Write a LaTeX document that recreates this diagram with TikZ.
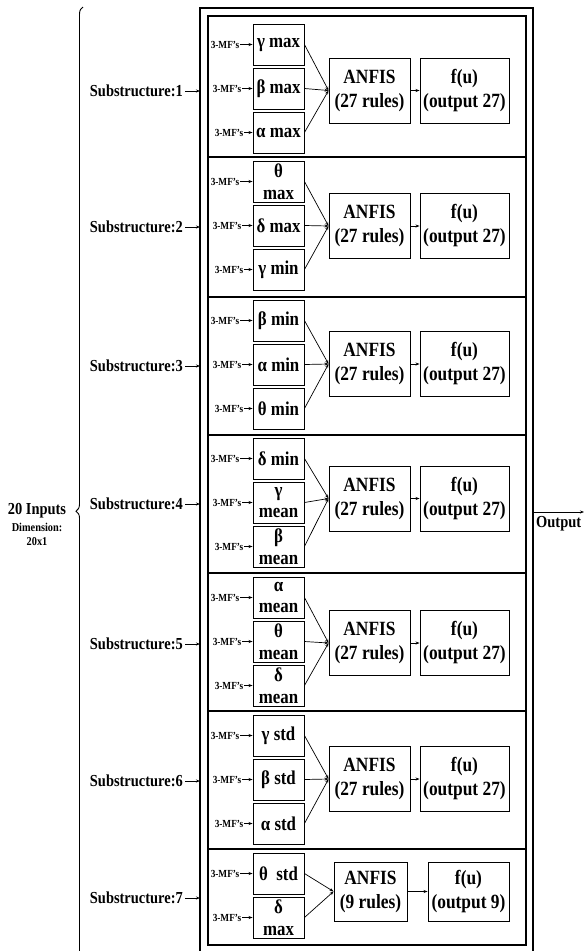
\documentclass[tikz,border=0pt]{standalone}
\usepackage{fontspec}
\setmainfont{Liberation Serif}[FakeStretch=0.86]
\usetikzlibrary{arrows.meta,decorations.pathreplacing}
\newcommand\fsub{\fontsize{16.8}{18}\selectfont\bfseries}
\newcommand\fin{\fontsize{19.6}{21.5}\selectfont\bfseries}
\newcommand\fan{\fontsize{20.2}{24}\selectfont\bfseries}
\newcommand\fmf{\fontsize{10.8}{11}\selectfont\bfseries}
\newcommand\fdim{\fontsize{12}{13}\selectfont\bfseries}
\tikzset{
  inbox/.style={draw,line width=0.9pt,minimum width=51pt,minimum height=41pt,inner sep=0pt,align=center,font=\fin},
  anfisbox/.style={draw,line width=0.9pt,minimum width=81pt,minimum height=65pt,inner sep=0pt,align=center,font=\fan},
  fubox/.style={draw,line width=0.9pt,minimum width=89pt,minimum height=65pt,inner sep=0pt,align=center,font=\fan},
  mflabel/.style={inner sep=0.5pt,anchor=east,font=\fmf},
  sublabel/.style={inner sep=0pt,anchor=east,font=\fsub},
  sarr/.style={line width=0.7pt,-{Stealth[length=4pt,width=3pt]}},
  frame/.style={line width=1.2pt},
}
% #1 id, #2 top of first box, #3 #4 #5 texts, #6 ANFIS centre y, #7 label y, #8 number
\newcommand\mysect[8]{%
  \node[inbox] (b#1a) at (278.5,#2+20.5) {#3};
  \node[inbox] (b#1b) at (278.5,#2+64.5) {#4};
  \node[inbox] (b#1c) at (278.5,#2+108.5) {#5};
  \node[mflabel] (m#1a) at (240,#2+20.5) {3-MF’s};
  \node[mflabel] (m#1b) at (242,#2+64.5) {3-MF’s};
  \node[mflabel] (m#1c) at (244,#2+108.5) {3-MF’s};
  \draw[sarr] (m#1a.east) -- (b#1a.west);
  \draw[sarr] (m#1b.east) -- (b#1b.west);
  \draw[sarr] (m#1c.east) -- (b#1c.west);
  \node[anfisbox] (a#1) at (369.5,#6) {ANFIS\\(27 rules)};
  \node[fubox] (f#1) at (464.5,#6) {f(u)\\(output 27)};
  \draw[sarr] (b#1a.east) -- (a#1.west);
  \draw[sarr] (b#1b.east) -- (a#1.west);
  \draw[sarr] (b#1c.east) -- (a#1.west);
  \draw[sarr] (a#1.east) -- (f#1.west);
  \node[sublabel] (s#1) at (183,#7) {Substructure:#8};
  \draw[sarr] (s#1.east) ++(2pt,0) -- (200,#7);
}
\begin{document}
\begin{tikzpicture}[x=1pt,y=-1pt]
\useasboundingbox (0,0) rectangle (584,951);
\clip (0,0) rectangle (584,951);
\fill[white] (0,0) rectangle (584,951);
% frames
\draw[frame] (200,8) rectangle (533,965);
\draw[frame] (208,16) rectangle (526,945);
\foreach \yy in {157,297,435,573,711,849}
  \draw[frame] (208,\yy) -- (526,\yy);
% brace and inputs
\draw[line width=0.9pt,decorate,decoration={brace,amplitude=7pt,aspect=0.471}] (83,960) -- (83,7);
\node[font=\fsub,inner sep=0pt] (inp) at (37,511) {20 Inputs};
\node[font=\fdim,inner sep=0pt] (dim) at (37,527) {Dimension:};
\node[font=\fdim,inner sep=0pt] (dimv) at (37,542) {20x1};
% sections
\mysect{1}{24}{γ max}{β max}{α max}{90.5}{91}{1}
\mysect{2}{161}{θ\\max}{δ max}{γ min}{226}{227}{2}
\mysect{3}{300}{β min}{α min}{θ min}{364}{366}{3}
\mysect{4}{438}{δ min}{γ\\mean}{β\\mean}{498.5}{504}{4}
\mysect{5}{577}{α\\mean}{θ\\mean}{δ\\mean}{643}{644}{5}
\mysect{6}{715}{γ std}{β std}{α std}{779}{781}{6}
% section 7
\node[inbox] (b7a) at (278.5,873.5) {θ~~std};
\node[inbox] (b7b) at (278.5,917.5) {δ\\max};
\node[mflabel] (m7a) at (240,873.5) {3-MF’s};
\node[mflabel] (m7b) at (242,917.5) {3-MF’s};
\draw[sarr] (m7a.east) -- (b7a.west);
\draw[sarr] (m7b.east) -- (b7b.west);
\node[anfisbox,minimum width=73pt,minimum height=59pt] (a7) at (370.5,891.5) {ANFIS\\(9 rules)};
\node[fubox,minimum width=81pt,minimum height=59pt] (f7) at (468.5,891.5) {f(u)\\(output 9)};
\draw[sarr] (b7a.east) -- (a7.west);
\draw[sarr] (b7b.east) -- (a7.west);
\draw[sarr] (a7.east) -- (f7.west);
\node[sublabel] (s7) at (183,898) {Substructure:7};
\draw[sarr] (s7.east) ++(2pt,0) -- (200,898);
% output
\coordinate (ostart) at (533,512);
\coordinate (oend) at (584,512);
\draw[sarr] (ostart) -- (oend);
\node[font=\fsub,inner sep=0pt,anchor=base west] (out) at (536,527) {Output};
\end{tikzpicture}
\end{document}
